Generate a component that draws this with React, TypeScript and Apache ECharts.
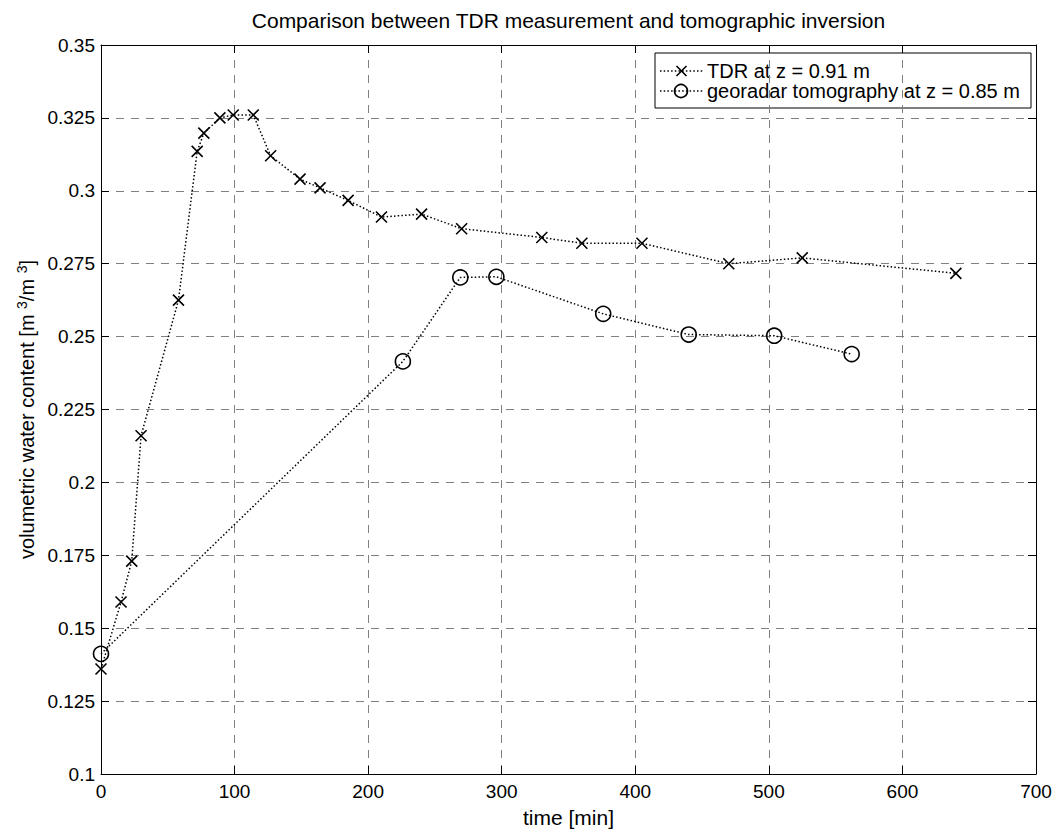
import React, { useEffect, useRef } from "react";
import * as echarts from "echarts";

// TDR probe readings (time in minutes, volumetric water content)
const tdrTime = [0, 15, 23, 30, 58, 72, 77, 89, 99, 114, 127, 149, 164, 185, 210, 240, 270, 330, 360, 405, 470, 525, 640];
const tdrTheta = [0.136, 0.159, 0.173, 0.216, 0.2625, 0.3135, 0.3198, 0.325, 0.326, 0.326, 0.312, 0.304, 0.301, 0.2967, 0.291, 0.292, 0.287, 0.284, 0.282, 0.282, 0.275, 0.277, 0.2717];

// Georadar tomography inversion results
const gprTime = [0, 226, 269, 296, 376, 440, 504, 562];
const gprTheta = [0.1412, 0.2415, 0.2703, 0.2705, 0.2578, 0.2507, 0.2503, 0.244];

const seriesNames = ["TDR at z = 0.91 m", "georadar tomography at z = 0.85 m"];
const titleText = "Comparison between TDR measurement and tomographic inversion";
const xName = "time [min]";

const FONT = "'Liberation Sans', Arial, Helvetica, sans-serif";
const CROSS = "path://M0,0L10,10M10,0L0,10";
const DOTS = [1.5, 2.2];

export default function App() {
  const ref = useRef<HTMLDivElement>(null);

  useEffect(() => {
    if (!ref.current) return;
    const chart = echarts.init(ref.current, undefined, { renderer: "svg" });

    const gridLeft = 101, gridTop = 45, gridRight = 20, gridBottom = 51;
    const plotCenterX = gridLeft + (1056 - gridLeft - gridRight) / 2;

    const splitLine = { show: true, lineStyle: { color: "#808080", type: [8, 7], width: 1 } };
    const axisLine = { show: true, onZero: false, lineStyle: { color: "#000", width: 1 } };
    const axisTick = { show: true, inside: true, length: 8, lineStyle: { color: "#000", width: 1 } };
    const labelStyle = { color: "#000", fontSize: 19, fontFamily: FONT };

    const lx = 655, ly = 53, lw = 376, lh = 55;
    const rowY = [71, 91];

    chart.setOption({
      animation: false,
      backgroundColor: "#fff",
      grid: { left: gridLeft, top: gridTop, right: gridRight, bottom: gridBottom, containLabel: false },
      xAxis: [
        {
          type: "value", min: 0, max: 700, interval: 100, position: "bottom",
          axisLine, axisTick, splitLine,
          axisLabel: { ...labelStyle, margin: 8 },
          name: xName, nameLocation: "middle", nameGap: 33,
          nameTextStyle: { color: "#000", fontSize: 21, fontFamily: FONT },
        },
        {
          type: "value", min: 0, max: 700, interval: 100, position: "top",
          axisLine, axisTick, splitLine: { show: false }, axisLabel: { show: false },
        },
      ],
      yAxis: [
        {
          type: "value", min: 0.1, max: 0.35, interval: 0.025, position: "left",
          axisLine, axisTick, splitLine,
          axisLabel: {
            ...labelStyle, margin: 6,
            formatter: (v: number) => String(parseFloat(v.toFixed(3))),
          },
          name: "volumetric water content [m {s|3}/m {s|3}]",
          nameLocation: "middle", nameGap: 62,
          nameTextStyle: {
            color: "#000", fontSize: 20, fontFamily: FONT,
            rich: { s: { fontSize: 14, fontFamily: FONT, color: "#000", verticalAlign: "top", padding: [0, 0, 10, 0] } },
          },
        },
        {
          type: "value", min: 0.1, max: 0.35, interval: 0.025, position: "right",
          axisLine, axisTick, splitLine: { show: false }, axisLabel: { show: false },
        },
      ],
      series: [
        {
          name: seriesNames[0], type: "line", clip: false,
          data: tdrTime.map((t, i) => [t, tdrTheta[i]]),
          symbol: CROSS, symbolSize: 11,
          itemStyle: { color: "#000", borderColor: "#000", borderWidth: 1.6 },
          lineStyle: { color: "#000", width: 1.5, type: DOTS },
          z: 3,
        },
        {
          name: seriesNames[1], type: "line", clip: false,
          data: gprTime.map((t, i) => [t, gprTheta[i]]),
          symbol: "circle", symbolSize: 15,
          itemStyle: { color: "rgba(0,0,0,0)", borderColor: "#000", borderWidth: 1.6 },
          lineStyle: { color: "#000", width: 1.5, type: DOTS },
          z: 3,
        },
      ],
      graphic: [
        {
          type: "text", x: plotCenterX, y: 20,
          style: { text: titleText, fill: "#000", fontSize: 21, fontFamily: FONT, textAlign: "center", textVerticalAlign: "middle" },
        },
        {
          type: "group", z: 100,
          children: [
            { type: "rect", shape: { x: lx, y: ly, width: lw, height: lh }, style: { fill: "#fff", stroke: "#000", lineWidth: 1 } },
            ...rowY.map((y) => ({
              type: "line", shape: { x1: lx + 5, y1: y, x2: lx + 48, y2: y },
              style: { stroke: "#000", lineWidth: 1.5, lineDash: DOTS },
            })),
            { type: "line", shape: { x1: lx + 21.5, y1: rowY[0] - 5, x2: lx + 31.5, y2: rowY[0] + 5 }, style: { stroke: "#000", lineWidth: 1.6 } },
            { type: "line", shape: { x1: lx + 31.5, y1: rowY[0] - 5, x2: lx + 21.5, y2: rowY[0] + 5 }, style: { stroke: "#000", lineWidth: 1.6 } },
            { type: "circle", shape: { cx: lx + 26, cy: rowY[1], r: 6.5 }, style: { fill: "none", stroke: "#000", lineWidth: 1.6 } },
            ...seriesNames.map((name, i) => ({
              type: "text", x: lx + 52, y: rowY[i],
              style: { text: name, fill: "#000", fontSize: 20, fontFamily: FONT, textVerticalAlign: "middle" },
            })),
          ],
        },
      ],
    });

    return () => chart.dispose();
  }, []);

  return (
    <div
      ref={ref}
      style={{ position: "fixed", left: 0, top: 0, width: 1056, height: 833, background: "#fff" }}
    />
  );
}
